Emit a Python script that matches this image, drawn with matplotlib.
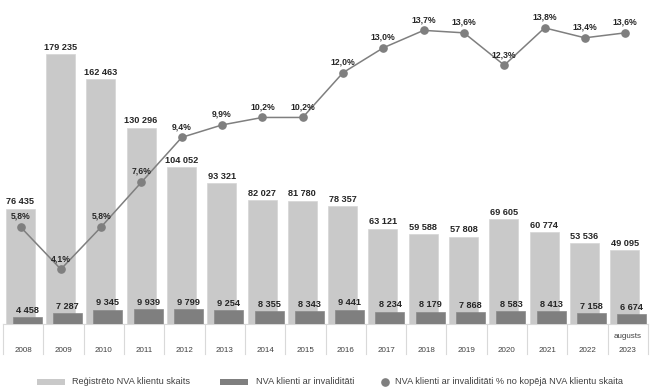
import matplotlib
matplotlib.use("Agg")
import matplotlib.pyplot as plt
import matplotlib.transforms as mtransforms
from matplotlib.patches import Rectangle
from matplotlib.lines import Line2D
import numpy as np

plt.rcParams['font.family'] = ['Liberation Sans', 'DejaVu Sans']

years = ["2008", "2009", "2010", "2011", "2012", "2013", "2014", "2015",
         "2016", "2017", "2018", "2019", "2020", "2021", "2022", "2023"]
registered = [76435, 179235, 162463, 130296, 104052, 93321, 82027, 81780,
              78357, 63121, 59588, 57808, 69605, 60774, 53536, 49095]
disabled = [4458, 7287, 9345, 9939, 9799, 9254, 8355, 8343,
            9441, 8234, 8179, 7868, 8583, 8413, 7158, 6674]
share_pct = [5.8, 4.1, 5.8, 7.6, 9.4, 9.9, 10.2, 10.2,
             12.0, 13.0, 13.7, 13.6, 12.3, 13.8, 13.4, 13.6]
legend_labels = ["Reģistrēto NVA klientu skaits",
                 "NVA klienti ar invaliditāti",
                 "NVA klienti ar invaliditāti % no kopējā NVA klientu skaita"]

def fmt_thousands(v):
    return f"{v:,}".replace(",", " ")

def fmt_pct(v):
    return f"{v:.1f}%".replace(".", ",")

W, H = 658, 392
fig = plt.figure(figsize=(W / 100, H / 100), dpi=100)
ax_left, ax_right = 3 / W, 648 / W
ax_bottom = (H - 324) / H
ax = fig.add_axes([ax_left, ax_bottom, ax_right - ax_left, 1 - ax_bottom])

light = "#C9C9C9"
dark = "#7F7F7F"
linec = "#7F7F7F"
txtc = "#262626"

x = np.arange(len(years))
bw = 0.72
ax.bar(x - 0.074, registered, width=bw, color=light, edgecolor="#D6D6D6", linewidth=0.5, zorder=2)
ax.bar(x + 0.099, disabled, width=bw, color=dark, edgecolor="#8A8A8A", linewidth=0.5, zorder=3)
ax.set_xlim(-0.5, len(years) - 0.5)
ax.set_ylim(0, 215080)

for xi, v in zip(x, registered):
    ax.annotate(fmt_thousands(v), (xi - 0.074, v), xytext=(0, 5.0), textcoords="offset points",
                ha="center", va="center", fontsize=6.6, fontweight="bold", color=txtc, zorder=6)
for xi, v in zip(x, disabled):
    ax.annotate(fmt_thousands(v), (xi + 0.099, v), xytext=(0, 5.0), textcoords="offset points",
                ha="center", va="center", fontsize=6.6, fontweight="bold", color=txtc, zorder=6)

ax2 = ax.twinx()
ax2.set_ylim(1.90, 14.92)
ax2.plot(x - 0.065, share_pct, color=linec, linewidth=1.1, marker="o", markersize=5.2,
         markerfacecolor=linec, markeredgecolor=linec, zorder=5)
for xi, v in zip(x, share_pct):
    ax2.annotate(fmt_pct(v), (xi - 0.065, v), xytext=(0, 7.7), textcoords="offset points",
                 ha="center", va="center", fontsize=6.2, fontweight="bold", color=txtc, zorder=6)

for a in (ax, ax2):
    for s in ("top", "right", "left"):
        a.spines[s].set_visible(False)
    a.set_yticks([])
    a.set_xticks([])
ax2.spines["bottom"].set_visible(False)
ax.spines["bottom"].set_color("#D9D9D9")
ax.spines["bottom"].set_linewidth(0.8)

# category separators and labels
trans = mtransforms.blended_transform_factory(ax.transData, ax.transAxes)
sep_bottom = -30 / 324
for b in np.arange(-0.5, len(years), 1.0):
    ax.add_line(Line2D([b, b], [0, sep_bottom], transform=trans, color="#D9D9D9",
                       linewidth=0.8, clip_on=False))
year_y = -(351 - 324) / 324
for xi, y in zip(x, years):
    ax.text(xi, year_y, y, transform=trans, ha="center", va="center",
            fontsize=5.8, color="#404040")
ax.text(x[-1], -(337 - 324) / 324, "augusts", transform=trans, ha="center", va="center",
        fontsize=5.8, color="#404040")

# legend (manual)
ly = 382
def fx(px):
    return px / W
def fy(py):
    return 1 - py / H
fig.patches.append(Rectangle((fx(37), fy(385)), fx(65) - fx(37), (6) / H,
                             transform=fig.transFigure, facecolor=light, edgecolor="none"))
fig.text(fx(72), fy(ly), legend_labels[0], ha="left", va="center", fontsize=6.6, color="#404040")
fig.patches.append(Rectangle((fx(220), fy(385)), fx(248) - fx(220), (6) / H,
                             transform=fig.transFigure, facecolor=dark, edgecolor="none"))
fig.text(fx(256), fy(ly), legend_labels[1], ha="left", va="center", fontsize=6.6, color="#404040")
fig.lines.append(Line2D([fx(385)], [fy(ly)], transform=fig.transFigure, marker="o",
                        markersize=5.2, color=linec, linestyle="none"))
fig.text(fx(395), fy(ly), legend_labels[2], ha="left", va="center", fontsize=6.6, color="#404040")

fig.savefig("out.png", dpi=100)
